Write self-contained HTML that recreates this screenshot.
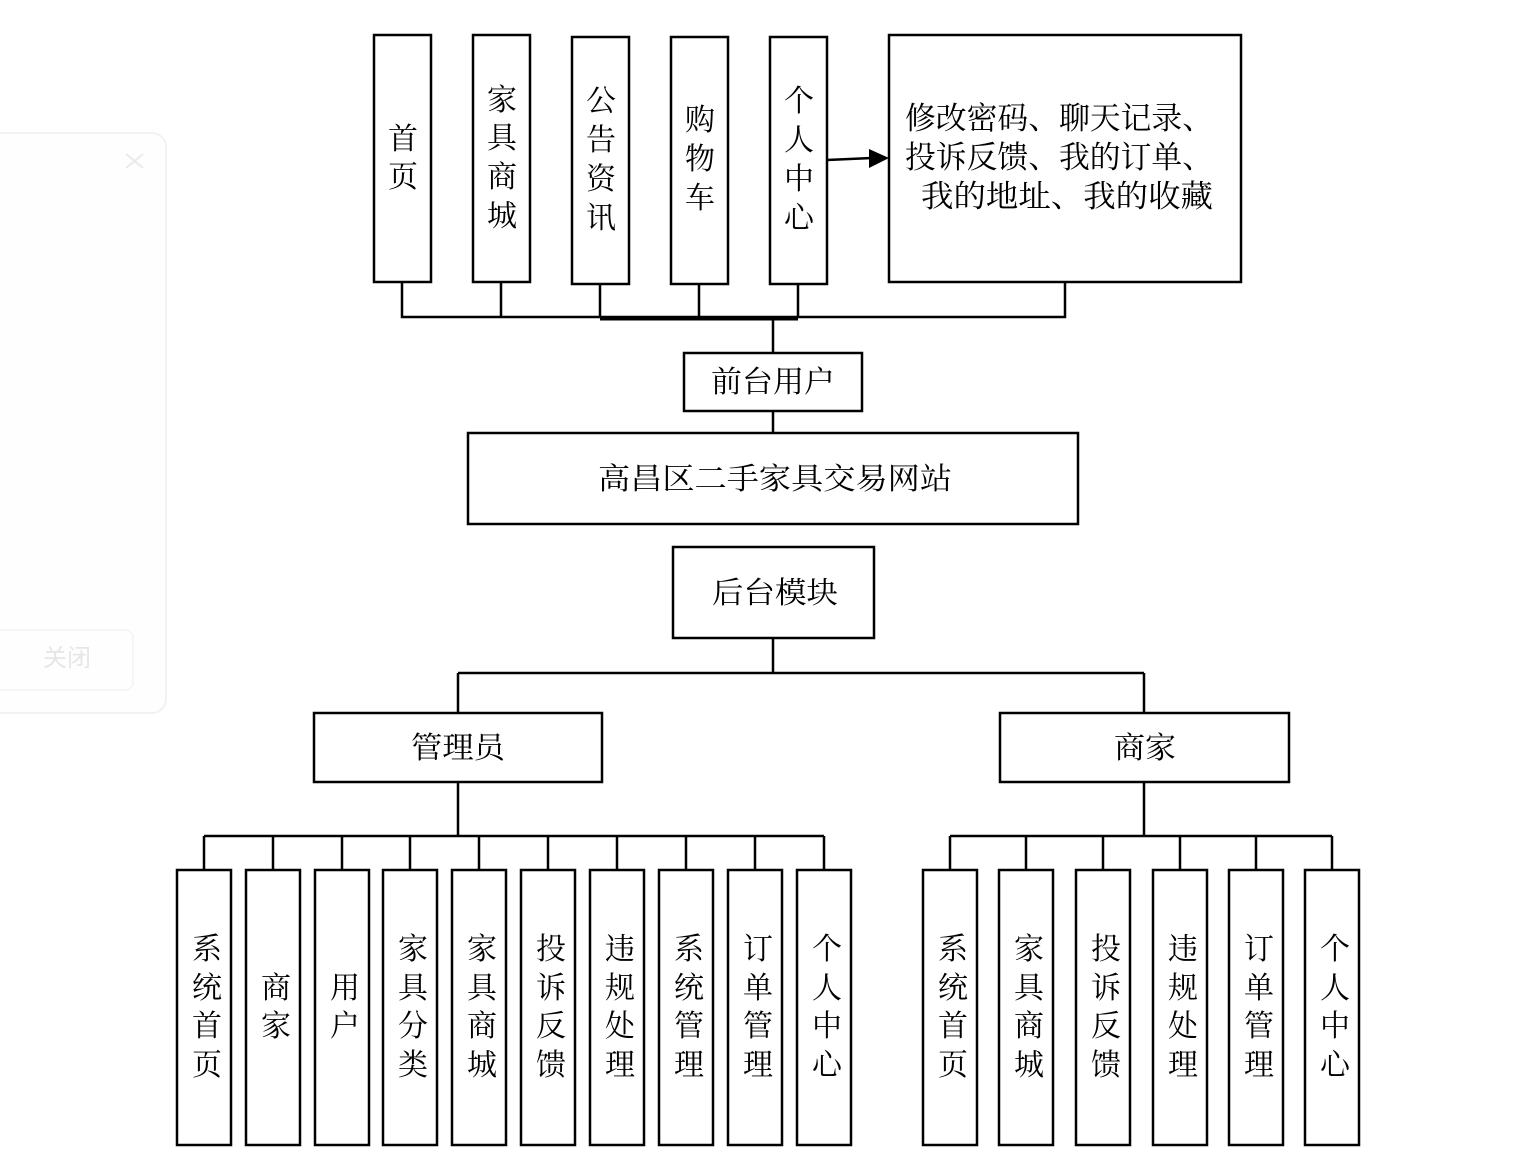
<!DOCTYPE html>
<html><head><meta charset="utf-8"><style>
html,body{margin:0;padding:0;background:#fff;}
svg{display:block;}
text{font-family:"Liberation Serif","Noto Serif CJK SC",serif;fill:#000;}
</style></head><body>
<svg width="1539" height="1171" viewBox="0 0 1539 1171" xmlns="http://www.w3.org/2000/svg">
<!-- faint dialog -->
<rect x="-20" y="133" width="186" height="580" rx="14" fill="#fefefe" stroke="#f2f2f2" stroke-width="2"/>
<path d="M126 154 L143 168 M143 154 L126 168" stroke="#eaeaea" stroke-width="2"/>
<rect x="-10" y="630" width="143" height="60" rx="8" fill="none" stroke="#f3f3f3" stroke-width="1.5"/>
<text x="67" y="666" font-size="24" text-anchor="middle" style="fill:#e6e6e6;font-family:'Liberation Sans','Noto Sans CJK SC',sans-serif">关闭</text>

<g stroke="#000" stroke-width="2.5" fill="#fff">
<rect x="374" y="35" width="57" height="247"/>
<rect x="473" y="35" width="57" height="247"/>
<rect x="572" y="37" width="57" height="247"/>
<rect x="671" y="37" width="57" height="247"/>
<rect x="770" y="37" width="57" height="247"/>
<rect x="889" y="35" width="352" height="247"/>
<rect x="684" y="353" width="178" height="58"/>
<rect x="468" y="433" width="610" height="91"/>
<rect x="673" y="547" width="201" height="91"/>
<rect x="314" y="713" width="288" height="69"/>
<rect x="1000" y="713" width="289" height="69"/>
<rect x="177" y="870" width="54" height="275"/>
<rect x="246" y="870" width="54" height="275"/>
<rect x="315" y="870" width="54" height="275"/>
<rect x="383" y="870" width="54" height="275"/>
<rect x="452" y="870" width="54" height="275"/>
<rect x="521" y="870" width="54" height="275"/>
<rect x="590" y="870" width="54" height="275"/>
<rect x="659" y="870" width="54" height="275"/>
<rect x="728" y="870" width="54" height="275"/>
<rect x="797" y="870" width="54" height="275"/>
<rect x="923" y="870" width="54" height="275"/>
<rect x="999" y="870" width="54" height="275"/>
<rect x="1076" y="870" width="54" height="275"/>
<rect x="1153" y="870" width="54" height="275"/>
<rect x="1229" y="870" width="54" height="275"/>
<rect x="1305" y="870" width="54" height="275"/>
</g>
<g stroke="#000" stroke-width="2.5" fill="none">
<path d="M402 282V317H1065V282 M501 282V317 M600 284V317 M699 284V317 M798 284V317"/>
<path d="M600 319H798" stroke-width="3"/>
<path d="M773 317V353 M773 411V433 M773 638V673 M458 673H1144 M458 673V713 M1144 673V713"/>
<path d="M458 782V836 M204 836H824 M204 836V870 M273 836V870 M342 836V870 M410 836V870 M479 836V870 M548 836V870 M617 836V870 M686 836V870 M755 836V870 M824 836V870"/>
<path d="M1144 782V836 M950 836H1332 M950 836V870 M1026 836V870 M1103 836V870 M1180 836V870 M1256 836V870 M1332 836V870"/>
<path d="M827 160L872 158"/>
</g>
<polygon points="889,158 869,149 869,168" fill="#000"/>

<g font-size="30" text-anchor="middle">
<text x="403" y="149">首</text><text x="403" y="187">页</text>
<text x="502" y="110">家</text><text x="502" y="148">具</text><text x="502" y="187">商</text><text x="502" y="226">城</text>
<text x="601" y="111">公</text><text x="601" y="150">告</text><text x="601" y="189">资</text><text x="601" y="228">讯</text>
<text x="700" y="130">购</text><text x="700" y="169">物</text><text x="700" y="208">车</text>
<text x="799" y="111">个</text><text x="799" y="150">人</text><text x="799" y="189">中</text><text x="799" y="228">心</text>
</g>
<g font-size="31">
<text x="905" y="129" textLength="308" lengthAdjust="spacingAndGlyphs">修改密码、聊天记录、</text>
<text x="905" y="168" textLength="308" lengthAdjust="spacingAndGlyphs">投诉反馈、我的订单、</text>
<text x="921" y="207" textLength="292" lengthAdjust="spacingAndGlyphs">我的地址、我的收藏</text>
</g>
<g font-size="30" text-anchor="middle">
<text x="773" y="392" textLength="124" lengthAdjust="spacingAndGlyphs">前台用户</text>
<text x="775" y="489" textLength="354" lengthAdjust="spacingAndGlyphs">高昌区二手家具交易网站</text>
<text x="775" y="603" textLength="126" lengthAdjust="spacingAndGlyphs">后台模块</text>
<text x="458" y="758" textLength="94" lengthAdjust="spacingAndGlyphs">管理员</text>
<text x="1145" y="758" textLength="62" lengthAdjust="spacingAndGlyphs">商家</text>
</g>
<g font-size="30" text-anchor="middle">
<text x="207" y="959">系</text><text x="207" y="998">统</text><text x="207" y="1036">首</text><text x="207" y="1075">页</text>
<text x="276" y="998">商</text><text x="276" y="1036">家</text>
<text x="345" y="998">用</text><text x="345" y="1036">户</text>
<text x="413" y="959">家</text><text x="413" y="998">具</text><text x="413" y="1036">分</text><text x="413" y="1075">类</text>
<text x="482" y="959">家</text><text x="482" y="998">具</text><text x="482" y="1036">商</text><text x="482" y="1075">城</text>
<text x="551" y="959">投</text><text x="551" y="998">诉</text><text x="551" y="1036">反</text><text x="551" y="1075">馈</text>
<text x="620" y="959">违</text><text x="620" y="998">规</text><text x="620" y="1036">处</text><text x="620" y="1075">理</text>
<text x="689" y="959">系</text><text x="689" y="998">统</text><text x="689" y="1036">管</text><text x="689" y="1075">理</text>
<text x="758" y="959">订</text><text x="758" y="998">单</text><text x="758" y="1036">管</text><text x="758" y="1075">理</text>
<text x="827" y="959">个</text><text x="827" y="998">人</text><text x="827" y="1036">中</text><text x="827" y="1075">心</text>
<text x="953" y="959">系</text><text x="953" y="998">统</text><text x="953" y="1036">首</text><text x="953" y="1075">页</text>
<text x="1029" y="959">家</text><text x="1029" y="998">具</text><text x="1029" y="1036">商</text><text x="1029" y="1075">城</text>
<text x="1106" y="959">投</text><text x="1106" y="998">诉</text><text x="1106" y="1036">反</text><text x="1106" y="1075">馈</text>
<text x="1183" y="959">违</text><text x="1183" y="998">规</text><text x="1183" y="1036">处</text><text x="1183" y="1075">理</text>
<text x="1259" y="959">订</text><text x="1259" y="998">单</text><text x="1259" y="1036">管</text><text x="1259" y="1075">理</text>
<text x="1335" y="959">个</text><text x="1335" y="998">人</text><text x="1335" y="1036">中</text><text x="1335" y="1075">心</text>
</g>
</svg>
</body></html>
